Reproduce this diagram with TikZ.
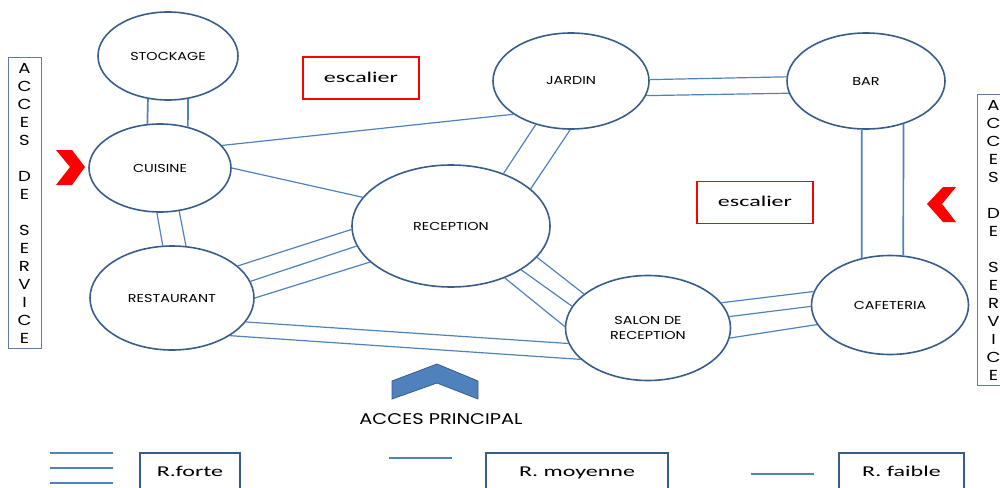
\documentclass[tikz,border=0pt]{standalone}
\usepackage{fontspec}
\usepackage{tikz}
\usetikzlibrary{shapes.geometric}
\setmainfont{Carlito}
\newfontfamily\roomfont[FakeStretch=1.25]{Poppins}
\newfontfamily\notefont[FakeStretch=1.6]{Carlito}
\definecolor{rimblue}{HTML}{385D8A}
\definecolor{linkblue}{HTML}{4F81BD}

\begin{document}
\begin{tikzpicture}[x=1pt,y=-1pt,
  room/.style={ellipse,draw=rimblue,line width=1.6pt,inner sep=0pt,align=center,font=\roomfont\fontsize{11.5}{15}\selectfont},
  link/.style={draw=linkblue,line width=1.2pt},
  stairbox/.style={rectangle,draw=red,line width=1.6pt,minimum width=116pt,minimum height=42pt,text height=11pt,text depth=3pt,font=\notefont\fontsize{15}{18}\selectfont},
  keybox/.style={rectangle,draw=rimblue,line width=1.4pt,minimum height=40pt,text height=10pt,text depth=3pt,font=\notefont\fontsize{15}{18}\selectfont},
  sidebox/.style={rectangle,draw=rimblue!80,line width=0.8pt,minimum width=33pt,minimum height=291pt,inner sep=0pt,align=center,font=\roomfont\fontsize{14.5}{18}\selectfont}]
\useasboundingbox (0,0) rectangle (1000,487);

\node[room,minimum width=140pt,minimum height=88pt] (stockage) at (168,56) {STOCKAGE};
\node[room,minimum width=142pt,minimum height=88pt] (cuisine) at (160,168) {CUISINE};
\node[room,minimum width=164pt,minimum height=104pt] (restaurant) at (172,298) {RESTAURANT};
\node[room,minimum width=198pt,minimum height=122pt] (reception) at (451,226) {RECEPTION};
\node[room,minimum width=156pt,minimum height=96pt] (jardin) at (571,81) {JARDIN};
\node[room,minimum width=158pt,minimum height=96pt] (bar) at (866,81) {BAR};
\node[room,minimum width=165pt,minimum height=105pt] (salon) at (648,328) {SALON DE\\RECEPTION};
\node[room,minimum width=157pt,minimum height=99pt] (cafeteria) at (890,305) {CAFETERIA};

\foreach \a/\b in {stockage.245/cuisine.106,stockage.295/cuisine.56,bar.265/cafeteria.121,bar.311/cafeteria.75} {
    \draw[link,line width=1.7pt] (\a) -- (\b);
}
\foreach \a/\b in {cuisine.266/restaurant.100,cuisine.294/restaurant.75,
    jardin.1/bar.177,jardin.349/bar.189,
    reception.45/jardin.231,reception.25/jardin.269,restaurant.342/salon.191,restaurant.327/salon.205} {
    \draw[link] (\a) -- (\b);
}
\foreach \a/\b in {restaurant.26/reception.182,restaurant.12/reception.192,restaurant.0/reception.204,
    reception.340/salon.152,reception.328/salon.164,reception.316/salon.179,
    salon.19/cafeteria.170,salon.8/cafeteria.181,salon.353/cafeteria.195} {
    \draw[link] (\a) -- (\b);
}
\foreach \a/\b in {cuisine.20/jardin.210,cuisine.0/reception.162} {
    \draw[link] (\a) -- (\b);
}

\node[stairbox] (escalierA) at (361,78) {escalier};
\node[stairbox] (escalierB) at (755,202.5) {escalier};

\node[sidebox] (serviceG) at (24.5,203) {A\\C\\C\\E\\S\\\mbox{}\\D\\E\\\mbox{}\\S\\E\\R\\V\\I\\C\\E};
\node[sidebox] (serviceD) at (993.5,240) {A\\C\\C\\E\\S\\\mbox{}\\D\\E\\\mbox{}\\S\\E\\R\\V\\I\\C\\E};
\fill[red] (56,150) -- (72,150) -- (85,167) -- (72,185) -- (56,185) -- (70,167) -- cycle;
\fill[red] (956,187) -- (943,187) -- (927,204) -- (943,222) -- (956,222) -- (942,204) -- cycle;

\filldraw[fill=linkblue,draw=rimblue,line width=0.8pt] (392,381) -- (437,364) -- (478,381) -- (478,399) -- (437,383) -- (392,399) -- cycle;
\node[font=\roomfont\fontsize{15.5}{18}\selectfont] (principal) at (441,419) {ACCES PRINCIPAL};

\foreach \y in {453,468,483} {
    \draw[link,line width=1.6pt] (50,\y) -- (113,\y);
}
\draw[link] (389,458) -- (452,458);
\draw[link] (751,474) -- (814,474);
\node[keybox,minimum width=100pt] (forte) at (190,473) {R.forte};
\node[keybox,minimum width=182pt] (moyenne) at (577,473) {R. moyenne};
\node[keybox,minimum width=125pt] (faible) at (901.5,473) {R. faible};
\end{tikzpicture}
\end{document}
